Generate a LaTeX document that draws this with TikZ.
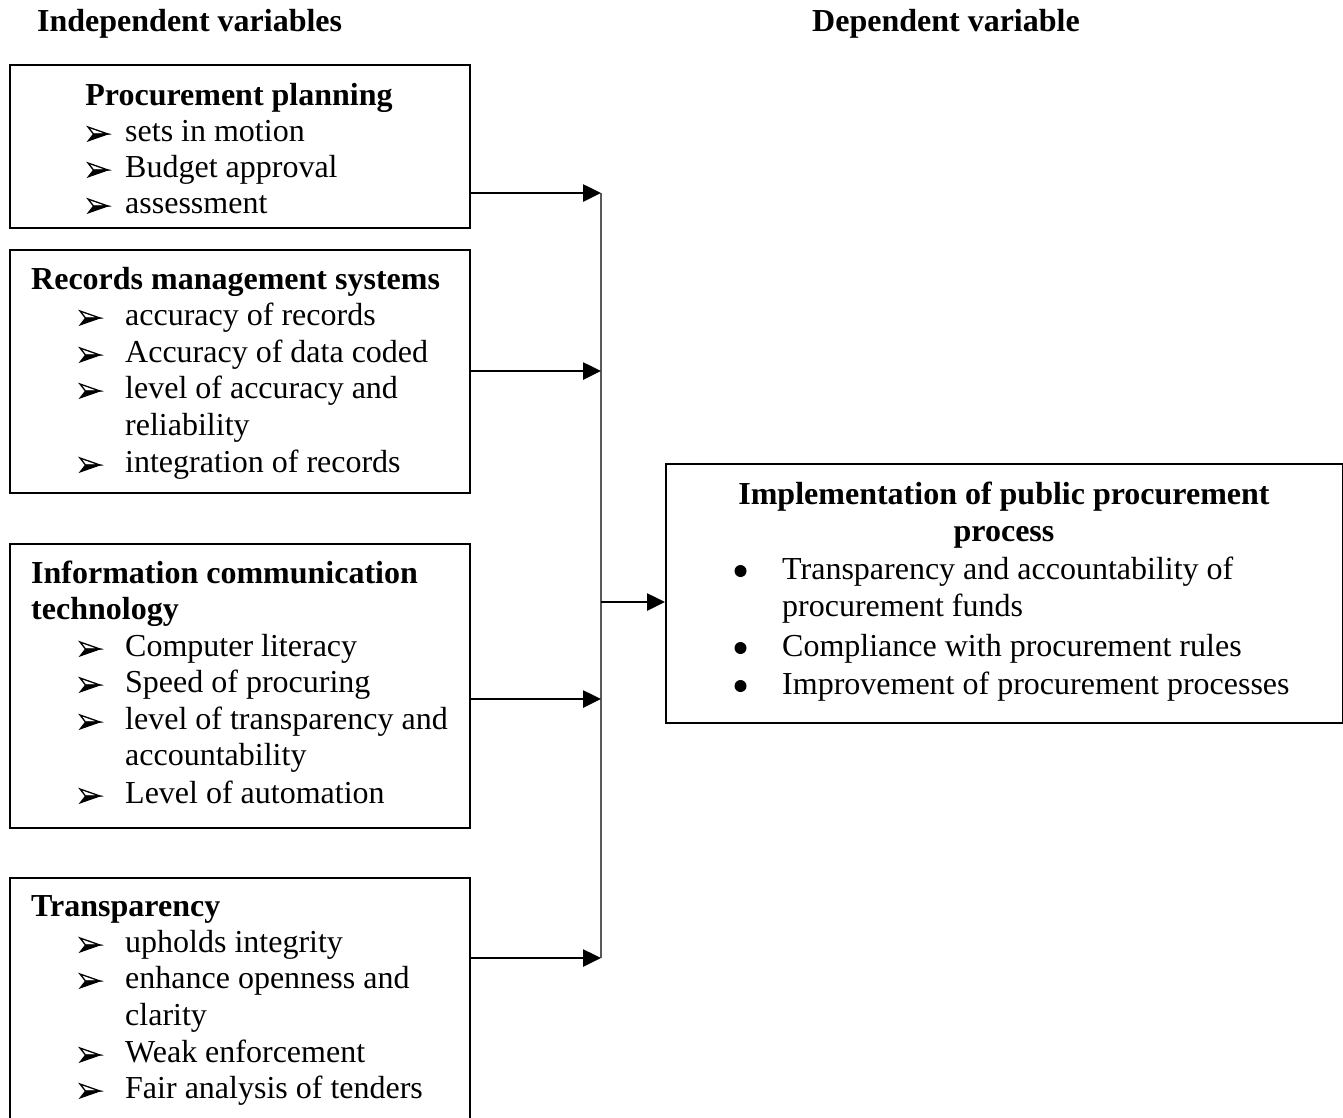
\documentclass[tikz,border=0pt]{standalone}
\usepackage{fontspec}
\setmainfont{Liberation Serif}
\usetikzlibrary{arrows.meta}
\begin{document}
\begin{tikzpicture}[x=1pt,y=-1pt,
 box/.style={draw,line width=2.2pt,inner sep=0pt,anchor=north west},
 txt/.style={anchor=base west,inner sep=0pt,font=\fontsize{32}{36}\selectfont},
 ttl/.style={anchor=base west,inner sep=0pt,font=\fontsize{32}{36}\selectfont\bfseries},
 ctl/.style={anchor=base,inner sep=0pt,font=\fontsize{32}{36}\selectfont\bfseries},
 dotb/.style={circle,fill=black,inner sep=0pt,minimum size=12pt},
 arr/.style={line width=2.6pt,-{Triangle[length=18pt,width=17pt]}},
 vline/.style={line width=2.2pt,draw=black!65},
 arrowbullet/.pic={
   \draw[line width=1.3pt,fill=white,line join=miter] (0,-7) -- (20,0) -- (5.5,0) -- cycle;
   \filldraw[line width=1pt,black,line join=miter] (0,7) -- (20,0) -- (5.5,0) -- cycle;
 }
 ]
\useasboundingbox (0,0) rectangle (1343,1117);
\clip (0,0) rectangle (1343,1117);
% headers
\node[ttl] (h1) at (37,31) {Independent variables};
\node[ttl] (h2) at (812,31) {Dependent variable};
% boxes
\node[box,minimum width=460pt,minimum height=163pt] (b1) at (9,64) {};
\node[box,minimum width=460pt,minimum height=243pt] (b2) at (9,249) {};
\node[box,minimum width=460pt,minimum height=284pt] (b3) at (9,543) {};
\node[box,minimum width=460pt,minimum height=300pt] (b4) at (9,877) {};
\node[box,minimum width=677pt,minimum height=259pt] (r) at (665,463) {};
% box 1
\node[ctl] (t1) at (239,105) {Procurement planning};
\pic (p1a) at (88,134) {arrowbullet}; \node[txt] (i1a) at (125,141) {sets in motion};
\pic (p1b) at (88,170) {arrowbullet}; \node[txt] (i1b) at (125,177) {Budget approval};
\pic (p1c) at (88,206) {arrowbullet}; \node[txt] (i1c) at (125,213) {assessment};
% box 2
\node[ttl] (t2) at (31,289) {Records management systems};
\pic (p2a) at (80,318) {arrowbullet}; \node[txt] (i2a) at (125,325) {accuracy of records};
\pic (p2b) at (80,355) {arrowbullet}; \node[txt] (i2b) at (125,362) {Accuracy of data coded};
\pic (p2c) at (80,391) {arrowbullet}; \node[txt] (i2c) at (125,398) {level of accuracy and};
\node[txt] (i2d) at (125,435) {reliability};
\pic (p2e) at (80,465) {arrowbullet}; \node[txt] (i2e) at (125,472) {integration of records};
% box 3
\node[ttl] (t3a) at (31,583) {Information communication};
\node[ttl] (t3b) at (31,619) {technology};
\pic (p3a) at (80,649) {arrowbullet}; \node[txt] (i3a) at (125,656) {Computer literacy};
\pic (p3b) at (80,685) {arrowbullet}; \node[txt] (i3b) at (125,692) {Speed of procuring};
\pic (p3c) at (80,722) {arrowbullet}; \node[txt] (i3c) at (125,729) {level of transparency and};
\node[txt] (i3d) at (125,765) {accountability};
\pic (p3e) at (80,796) {arrowbullet}; \node[txt] (i3e) at (125,803) {Level of automation};
% box 4
\node[ttl] (t4) at (31,916) {Transparency};
\pic (p4a) at (80,945) {arrowbullet}; \node[txt] (i4a) at (125,952) {upholds integrity};
\pic (p4b) at (80,981) {arrowbullet}; \node[txt] (i4b) at (125,988) {enhance openness and};
\node[txt] (i4c) at (125,1025) {clarity};
\pic (p4d) at (80,1055) {arrowbullet}; \node[txt] (i4d) at (125,1062) {Weak enforcement};
\pic (p4e) at (80,1091) {arrowbullet}; \node[txt] (i4e) at (125,1098) {Fair analysis of tenders};
% right box
\node[ctl] (rt1) at (1004,504) {Implementation of public procurement};
\node[ctl] (rt2) at (1004,541) {process};
\node[dotb] (d1) at (740.5,571) {}; \node[txt] (r1) at (782,579) {Transparency and accountability of};
\node[txt] (r1b) at (782,616) {procurement funds};
\node[dotb] (d2) at (740.5,648) {}; \node[txt] (r2) at (782,656) {Compliance with procurement rules};
\node[dotb] (d3) at (740.5,686) {}; \node[txt] (r3) at (782,694) {Improvement of procurement processes};
% connectors
\coordinate (j1) at (601,193);
\coordinate (j2) at (601,371);
\coordinate (j3) at (601,699);
\coordinate (j4) at (601,958);
\coordinate (jm) at (601,602);
\draw[vline] (j1) -- (j4);
\draw[arr] (b1.east |- j1) -- (j1);
\draw[arr] (b2.east |- j2) -- (j2);
\draw[arr] (b3.east |- j3) -- (j3);
\draw[arr] (b4.east |- j4) -- (j4);
\draw[arr] (jm) -- (r.west |- jm);
\end{tikzpicture}
\end{document}
